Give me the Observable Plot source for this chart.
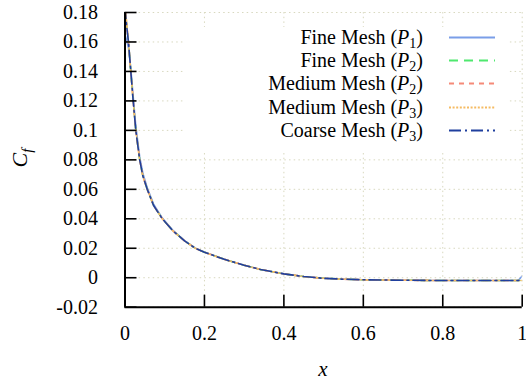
<!DOCTYPE html>
<html>
<head>
<meta charset="utf-8">
<script src="https://cdn.jsdelivr.net/npm/d3@7"></script>
<script src="https://cdn.jsdelivr.net/npm/@observablehq/plot@0.6"></script>
<style>
  html, body { margin: 0; padding: 0; background: #fff; }
  #wrap { position: relative; width: 526px; height: 381px; }
  #legend { position: absolute; left: 183px; top: 27px; width: 325px; height: 125px; background: #fff; }
  .row { position: absolute; left: 0; width: 325px; height: 23px; line-height: 23px; }
  .row .lab { position: absolute; right: 85px; top: 0; white-space: nowrap; }
  .row svg { position: absolute; left: 266px; top: 0; }
  sub { font-size: 14px; vertical-align: baseline; position: relative; top: 4px; }
</style>
</head>
<body>
<div id="wrap"><div id="legend"></div></div>
<script>
// ---- data ----
const xs = [0, 0.002, 0.004, 0.0088, 0.0146, 0.0206, 0.0272, 0.037, 0.045, 0.056, 0.072, 0.094, 0.12, 0.15, 0.177, 0.2, 0.25, 0.3, 0.341, 0.4, 0.45, 0.5, 0.55, 0.6, 0.7, 0.8, 0.9, 0.99, 1];
const fineP1   = [0.165, 0.163, 0.161, 0.156, 0.142, 0.123, 0.103, 0.082, 0.071, 0.061, 0.050, 0.0405, 0.0323, 0.0252, 0.0201, 0.0174, 0.0125, 0.0085, 0.0056, 0.0026, 0.0008, -0.0004, -0.0010, -0.0014, -0.0017, -0.0019, -0.0019, -0.0019, 0.0012];
const fineP2   = [0.186, 0.178, 0.172, 0.160, 0.140, 0.120, 0.100, 0.080, 0.069, 0.060, 0.049, 0.040, 0.032, 0.025, 0.020, 0.0173, 0.0125, 0.0085, 0.0056, 0.0026, 0.0008, -0.0004, -0.0010, -0.0014, -0.0017, -0.0019, -0.0019, -0.0019, -0.0018];
const mediumP2 = [0.188, 0.179, 0.172, 0.160, 0.140, 0.120, 0.100, 0.080, 0.069, 0.060, 0.049, 0.040, 0.032, 0.025, 0.020, 0.0173, 0.0125, 0.0085, 0.0056, 0.0026, 0.0008, -0.0004, -0.0010, -0.0014, -0.0017, -0.0019, -0.0019, -0.0019, -0.0020];
const mediumP3 = [0.195, 0.182, 0.173, 0.160, 0.140, 0.120, 0.100, 0.080, 0.069, 0.060, 0.049, 0.040, 0.032, 0.025, 0.020, 0.0173, 0.0125, 0.0085, 0.0056, 0.0026, 0.0008, -0.0004, -0.0010, -0.0014, -0.0017, -0.0019, -0.0019, -0.0019, -0.0019];
const coarseP3 = [0.184, 0.177, 0.171, 0.160, 0.140, 0.120, 0.100, 0.080, 0.069, 0.060, 0.049, 0.040, 0.032, 0.025, 0.020, 0.0173, 0.0125, 0.0085, 0.0056, 0.0026, 0.0008, -0.0004, -0.0010, -0.0014, -0.0017, -0.0019, -0.0019, -0.0019, -0.0019];

const seriesNames = ["Fine Mesh", "Fine Mesh", "Medium Mesh", "Medium Mesh", "Coarse Mesh"];
const seriesOrders = ["1", "2", "2", "3", "3"];
const seriesValues = [fineP1, fineP2, mediumP2, mediumP3, coarseP3];

const xTicks = [0, 0.2, 0.4, 0.6, 0.8, 1];
const xTickLabels = ["0", "0.2", "0.4", "0.6", "0.8", "1"];
const yTicks = [-0.02, 0, 0.02, 0.04, 0.06, 0.08, 0.1, 0.12, 0.14, 0.16, 0.18];
const yTickLabels = ["-0.02", "0", "0.02", "0.04", "0.06", "0.08", "0.1", "0.12", "0.14", "0.16", "0.18"];

// ---- styles ----
const FONT = "'Liberation Serif', 'Times New Roman', serif";
const styles = [
  {stroke: "#7a9ee8", dash: null},
  {stroke: "#4fe86e", dash: "9,6"},
  {stroke: "#f58a78", dash: "5,5"},
  {stroke: "#f5bb63", dash: "2,1.6"},
  {stroke: "#1f3f9e", dash: "12,4,2,4"}
];

const tables = seriesValues.map(vals => xs.map((x, i) => ({x, y: vals[i]})));

const lineMarks = tables.map((t, k) => Plot.line(t, {
  x: "x", y: "y", stroke: styles[k].stroke, strokeWidth: 1.6,
  strokeDasharray: styles[k].dash || undefined, clip: true
}));

const grid = {stroke: "#d8d8bf", strokeOpacity: 1, strokeDasharray: "1.5,3.2", strokeWidth: 1};

const chart = Plot.plot({
  width: 526, height: 381,
  marginLeft: 124.5, marginRight: 4.3, marginTop: 12, marginBottom: 74.3,
  style: {background: "#fff", color: "#000"},
  x: {domain: [0, 1]},
  y: {domain: [-0.02, 0.18]},
  marks: [
    Plot.gridX(xTicks, grid),
    Plot.gridY(yTicks, grid),
    ...lineMarks,
    Plot.axisX(xTicks, {tickSize: 0, tickPadding: 19, fontSize: 20, tickFormat: (d) => xTickLabels[xTicks.indexOf(d)], label: null}),
    Plot.axisY(yTicks, {tickSize: 0, tickPadding: 27, fontSize: 20, tickFormat: (d) => yTickLabels[yTicks.indexOf(d)], label: null}),
    Plot.axisX(xTicks, {tickSize: 12, dy: -12, fill: "none", strokeWidth: 1.6, label: null}),
    Plot.axisY(yTicks, {tickSize: 12, dx: 12, fill: "none", strokeWidth: 1.6, label: null}),
    Plot.ruleX([0], {strokeWidth: 2}),
    Plot.ruleY([-0.02], {strokeWidth: 2})
  ]
});

const wrap = document.getElementById("wrap");
wrap.insertBefore(chart, wrap.firstChild);
chart.style.position = "absolute";
chart.style.left = "0";
chart.style.top = "0";

const svg = d3.select(chart);
svg.selectAll("text").style("font-family", FONT).style("font-size", "20px");

// axis titles
const yl = svg.append("text")
  .attr("transform", "translate(27,158) rotate(-90)")
  .attr("text-anchor", "middle")
  .style("font-family", FONT)
  .style("font-size", "22px")
  .style("font-style", "italic")
  .attr("fill", "#000");
yl.append("tspan").text("C");
yl.append("tspan").style("font-size", "15px").attr("dy", 5).text("f");

svg.append("text")
  .attr("x", 323).attr("y", 376)
  .attr("text-anchor", "middle")
  .style("font-family", FONT)
  .style("font-size", "21px")
  .style("font-style", "italic")
  .attr("fill", "#000")
  .text("x");

// legend
const legend = document.getElementById("legend");
legend.style.fontFamily = FONT;
legend.style.fontSize = "20px";
const rowTops = [0, 1, 2, 3, 4].map(i => 10.3 + i * 23.25 - 11.5);
seriesNames.forEach((name, i) => {
  const row = document.createElement("div");
  row.className = "row";
  row.style.top = rowTops[i] + "px";
  const lab = document.createElement("span");
  lab.className = "lab";
  lab.innerHTML = name + " (<i>P</i><sub>" + seriesOrders[i] + "</sub>)";
  row.appendChild(lab);
  const s = d3.create("svg").attr("width", 47).attr("height", 23);
  s.append("line").attr("x1", 0).attr("x2", 46).attr("y1", 11.5).attr("y2", 11.5)
    .attr("stroke", styles[i].stroke).attr("stroke-width", 2)
    .attr("stroke-dasharray", styles[i].dash);
  row.appendChild(s.node());
  legend.appendChild(row);
});
</script>
</body>
</html>
